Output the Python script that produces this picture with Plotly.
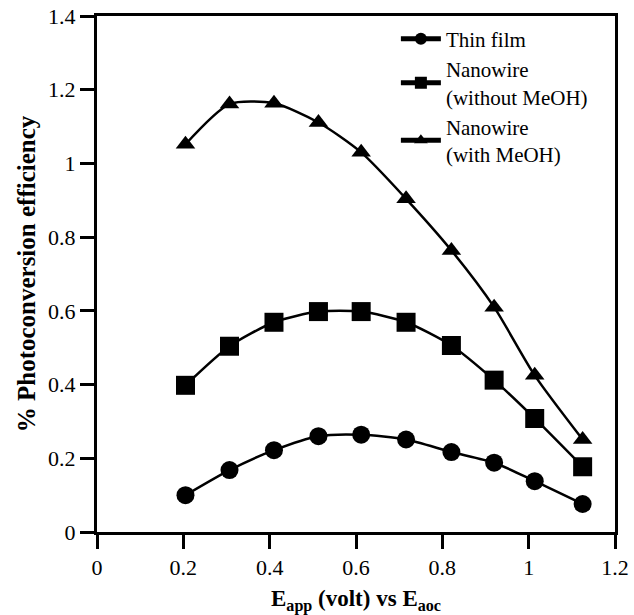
import plotly.graph_objects as go

x_thin = [0.205, 0.307, 0.41, 0.513, 0.612, 0.716, 0.821, 0.92, 1.014, 1.125]
y_thin = [0.100, 0.168, 0.222, 0.260, 0.264, 0.251, 0.217, 0.188, 0.138, 0.076]

x_nw = [0.205, 0.307, 0.41, 0.513, 0.612, 0.716, 0.821, 0.92, 1.014, 1.125]
y_nw = [0.398, 0.504, 0.569, 0.598, 0.598, 0.569, 0.506, 0.412, 0.308, 0.177]

x_nwm = [0.205, 0.307, 0.41, 0.513, 0.612, 0.716, 0.821, 0.92, 1.014, 1.125]
y_nwm = [1.052, 1.161, 1.163, 1.111, 1.030, 0.904, 0.764, 0.610, 0.425, 0.251]

names = ["Thin film", "Nanowire<br>(without MeOH)", "Nanowire<br>(with MeOH)"]
FONT = "Liberation Serif"

fig = go.Figure()
series = [(x_thin, y_thin, "circle", 18), (x_nw, y_nw, "square", 19), (x_nwm, y_nwm, "triangle-up", 17)]
for (xs, ys, sym, sz), nm in zip(series, names):
    fig.add_trace(go.Scatter(
        x=xs, y=ys, name=nm, mode="lines+markers",
        line=dict(color="black", width=2.5, shape="spline", smoothing=0.7),
        marker=dict(symbol=sym, size=sz, color="black"),
    ))

axis_common = dict(
    showline=True, linecolor="black", linewidth=3, mirror=True,
    ticks="outside", ticklen=14, tickwidth=3, tickcolor="black",
    showgrid=False, zeroline=False, automargin=False,
    tickfont=dict(family=FONT, size=22, color="black"),
)

fig.update_xaxes(range=[0, 1.2], dtick=0.2, **axis_common,
                 title=dict(text="<b>E<sub>app</sub> (volt) vs E<sub>aoc</sub></b>",
                            font=dict(family=FONT, size=23, color="black")))
fig.update_yaxes(range=[0, 1.4], dtick=0.2, **axis_common,
                 title=dict(text="<b>% Photoconversion efficiency</b>",
                            font=dict(family=FONT, size=25, color="black")))

fig.update_layout(
    template="none",
    width=634, height=615,
    margin=dict(l=97, r=19, t=16, b=83),
    plot_bgcolor="white", paper_bgcolor="white",
    font=dict(family=FONT, color="black"),
    legend=dict(x=0.577, y=0.995, xanchor="left", yanchor="top",
                bgcolor="rgba(0,0,0,0)", font=dict(family=FONT, size=21, color="black"),
                itemwidth=40, itemsizing="constant", tracegroupgap=0),
    showlegend=True,
)

fig.write_html("out.html", config={"displayModeBar": False},
               post_script="document.body.style.margin='0px';")
